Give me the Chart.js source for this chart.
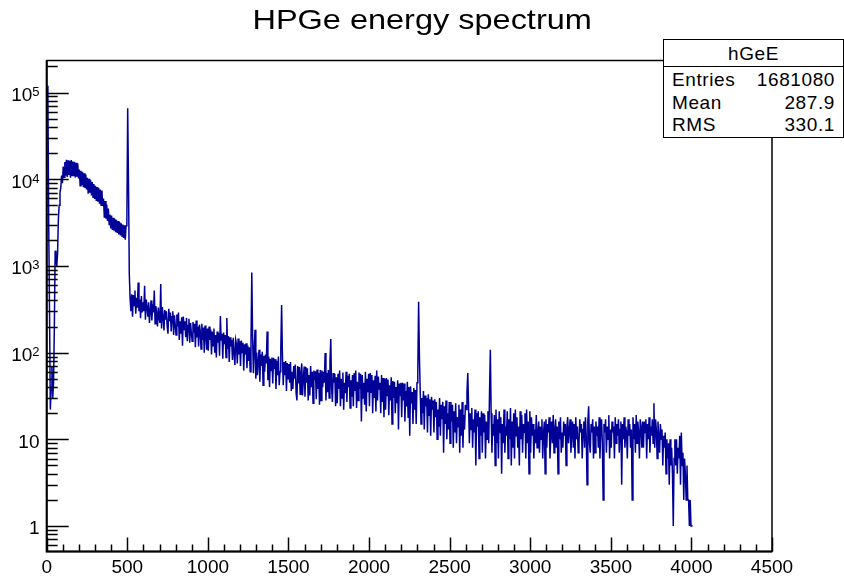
<!doctype html>
<html lang="en">
<head>
<meta charset="utf-8">
<title>HPGe energy spectrum</title>
<script src="https://cdn.jsdelivr.net/npm/chart.js"></script>
<style>
  body{margin:0;background:#fff;font-family:"Liberation Sans",Arial,sans-serif}
  #wrap{position:relative;width:844px;height:581px;overflow:hidden}
  #title{position:absolute;left:0;top:3px;width:844px;text-align:center;font-size:28px;line-height:34px;color:#000;transform:scaleX(1.16);transform-origin:421px 0}
  #stats{position:absolute;left:663px;top:39px;width:179px;height:97px;border:1px solid #000;background:#fff;font-size:19px;letter-spacing:0.6px;color:#000}
  #stats .hd{height:26px;border-bottom:1px solid #000;text-align:center;line-height:27px}
  #stats .row{display:flex;justify-content:space-between;padding:0 8px 0 8px;height:22.5px;line-height:25px}
</style>
</head>
<body>
<div id="wrap">
  <canvas id="chart" width="844" height="581"></canvas>
  <div id="title">HPGe energy spectrum</div>
  <div id="stats"></div>
</div>

<script>
/* ---------- data: counts per 5 keV bin ------------------------------- */
const binWidth=5;
const countsLow=[            // 0 - 495 keV
  120000,90000,3000,300,22,40,70,30,45,200, 1500,1300,1000,1400,3500,5000,7000,8000,11000,9000,
  14000,10500,15800,11000,16800,10600,16500,11200,16200,10400, 16600,11000,16000,10800,15900,10500,15500,10700,15200,10200,
  12900,8400,12500,8500,12200,8100,11700,7900,11300,7600, 10400,6800,10100,7000,9700,6500,9300,6200,8800,5900,
  8400,5600,8100,5500,7900,5200,7600,5000,7400,4900, 6000,3600,5600,3500,5100,3300,4600,3000,3900,2700,
  3800,2600,3600,2550,3500,2450,3400,2400,3300,2300, 3200,2250,3100,2200,3000,2100,2950,2000,2900,3500];
const countsMid=[            // 500 - 1495 keV
  66000,9000,800,420,300,470,260,460,350,520, 280,430,330,645,300,410,250,450,290,380,
  300,590,240,410,330,260,380,220,300,400, 235,360,290,520,215,345,280,200,330,250,
  220,620,190,335,260,180,310,240,300,200, 165,320,230,290,175,260,300,160,270,210,
  160,275,200,290,140,230,165,255,120,260, 185,230,150,250,135,205,245,130,220,170,
  135,225,170,215,115,235,150,200,118,210, 180,110,215,140,195,100,205,160,108,190,
  105,200,140,185,95,175,120,190,100,160, 88,175,130,168,92,265,140,165,85,170,
  125,160,88,250,110,155,78,150,118,140, 82,148,100,72,140,125,75,145,95,135,
  70,138,100,130,62,125,95,128,66,120, 80,115,60,130,840,150,58,110,183,50,
  100,55,80,108,46,95,70,102,42,92, 60,95,75,175,48,90,40,85,62,88,
  44,87,65,84,38,80,55,90,42,60, 110,355,95,42,78,55,80,36,76,50];
const countsHigh=[           // 1500 - 2995 keV
  74,45,78,36,60,38,70,50,73,34, 28,70,44,68,33,58,75,32,52,69,
  31,68,45,66,28,55,32,70,40,60, 26,62,48,61,29,64,38,58,25,63,
  28,62,40,60,45,99,28,58,35,63, 30,80,143,40,27,58,45,57,24,52,
  26,57,38,62,24,50,30,59,22,45, 34,60,27,54,40,57,23,48,31,55,
  24,58,36,62,23,46,28,59,38,57, 16,55,30,45,25,60,21,50,35,57,
  24,58,35,55,20,48,30,54,21,62, 28,53,38,45,20,55,27,51,18,50,
  22,51,32,49,19,42,28,52,15,47, 30,46,20,40,26,48,13,44,32,45,
  18,45,28,44,16,36,24,46,18,40, 11,41,26,35,15,39,22,37,15,45,
  60,385,90,35,15,30,20,36,13,32, 24,30,12,33,19,29,11,31,22,28,
  12,29,18,27,10,22,14,30,11,25, 17,27,7,24,15,28,10,20,13,27,
  9,27,16,25,8,21,12,26,9,18, 14,25,7,22,11,27,8,19,13,25,
  22,35,58,24,9,20,13,23,8,17, 12,22,5,20,14,21,6,18,11,21,
  7,20,12,19,6,16,10,21,9,35, 108,20,7,15,11,19,5,22,9,17,
  6,21,12,18,4,15,9,22,7,14, 11,21,6,17,10,23,5,16,8,20,
  6,22,11,18,8,14,5,21,10,19, 7,15,12,20,6,22,9,16,4,21];
const countsTail=[           // 3000 - 4010 keV
  7,18,11,15,6,13,9,19,8,12, 16,7,14,10,17,6,12,16,4,17,
  8,15,12,18,6,11,16,9,19,7, 13,17,8,14,4,16,10,18,7,12,
  8,16,11,15,5,14,18,9,13,17, 7,12,16,8,15,6,18,10,14,7,
  9,17,12,15,6,13,16,8,18,11, 3,16,24,9,7,15,12,17,6,14,
  7,16,11,14,8,18,6,13,17,9, 2,15,12,17,7,14,10,19,6,13,
  8,16,12,14,6,18,9,15,11,17, 7,13,16,3,15,10,18,8,14,12,
  6,17,11,15,8,13,2,18,10,15, 7,19,9,16,12,6,17,14,8,16,
  8,16,12,17,6,15,10,18,7,14, 11,17,9,26,8,17,13,6,16,11,
  7,15,10,13,5,11,8,12,4,10, 6,9,3,10,5,8,4,1,6,10,
  5,10,4,8,6,11,3,12,5,7, 2,6,4,2,5,2,2,1,2,1,
  1,1,0];
const counts=[...countsLow,...countsMid,...countsHigh,...countsTail];

const xMajorTicks=[0,500,1000,1500,2000,2500,3000,3500,4000,4500];
const xMinorStep=100;
const yDecades=[0,1,2,3,4,5];
const yBase=['1','10','10','10','10','10'];
const yExp=['','','2','3','4','5'];

const histName='hGeE';
const statLabels=['Entries','Mean','RMS'];
const statValues=['1681080','287.9','330.1'];

/* ---------- stats box ------------------------------------------------- */
const st=document.getElementById('stats');
st.innerHTML='<div class="hd">'+histName+'</div>'+
  statLabels.map((l,i)=>`<div class="row"><span>${l}</span><span>${statValues[i]}</span></div>`).join('');

/* ---------- ROOT-like frame, ticks, log labels ------------------------ */
const rootAxes={
  id:'rootAxes',
  afterDraw(chart){
    const {ctx,chartArea:a,scales:{x,y}}=chart;
    ctx.save();
    ctx.strokeStyle='#000';
    ctx.lineWidth=1.5;
    ctx.beginPath();
    for(let e=0;e<=4500;e+=xMinorStep){
      const px=Math.round(x.getPixelForValue(e))+0.5;
      const len=e%500===0?14:7;
      ctx.moveTo(px,a.bottom); ctx.lineTo(px,a.bottom-len);
    }
    for(let d=-1;d<=5;d++) for(let m=1;m<10;m++){
      const v=m*Math.pow(10,d);
      if(v<y.min||v>y.max) continue;
      const py=Math.round(y.getPixelForValue(v))+0.5;
      ctx.moveTo(a.left,py); ctx.lineTo(a.left+(m===1?22:11),py);
    }
    ctx.stroke();
    ctx.lineWidth=1.5;
    ctx.strokeRect(a.left,a.top,a.right-a.left,a.bottom-a.top);
    ctx.lineWidth=2;
    ctx.beginPath();
    ctx.moveTo(a.left,a.top); ctx.lineTo(a.left,a.bottom); ctx.lineTo(a.right,a.bottom);
    ctx.stroke();
    // y labels with superscript
    ctx.fillStyle='#000';
    ctx.textAlign='right';
    ctx.textBaseline='alphabetic';
    const rx=39.5;
    yDecades.forEach((d,i)=>{
      const py=y.getPixelForValue(Math.pow(10,d));
      let ex=rx;
      if(yExp[i]){
        ctx.font='13px "Liberation Sans", Arial, sans-serif';
        ctx.fillText(yExp[i],rx,py+3.5);
        ex=rx-ctx.measureText(yExp[i]).width;
      }
      ctx.font='19px "Liberation Sans", Arial, sans-serif';
      ctx.fillText(yBase[i],ex,py+8.5);
    });
    ctx.restore();
  }
};

/* ---------- chart ----------------------------------------------------- */
new Chart(document.getElementById('chart'),{
  type:'line',
  data:{datasets:[{
    data:counts.map((c,i)=>({x:binWidth*(i+0.5),y:c})),
    borderColor:'#000099',borderWidth:1.5,pointRadius:0,
    tension:0,fill:false
  }]},
  options:{
    responsive:false,animation:false,devicePixelRatio:1,
    layout:{padding:{left:0,top:60.5,right:72,bottom:0}},
    plugins:{legend:{display:false},tooltip:{enabled:false},title:{display:false}},
    scales:{
      x:{type:'linear',min:0,max:4500,
         afterBuildTicks:s=>{s.ticks=xMajorTicks.map(v=>({value:v}));},
         afterFit:s=>{s.height=29.5;},
         grid:{display:false,drawTicks:false},border:{display:false},
         ticks:{autoSkip:false,maxRotation:0,padding:5,color:'#000',
                font:{family:'"Liberation Sans", Arial, sans-serif',size:19},
                callback:v=>String(v)}},
      y:{type:'logarithmic',min:0.508,max:234000,
         afterFit:s=>{s.width=46.7;},
         grid:{display:false,drawTicks:false},border:{display:false},
         ticks:{display:false}}
    }
  },
  plugins:[rootAxes]
});
</script>
</body>
</html>
